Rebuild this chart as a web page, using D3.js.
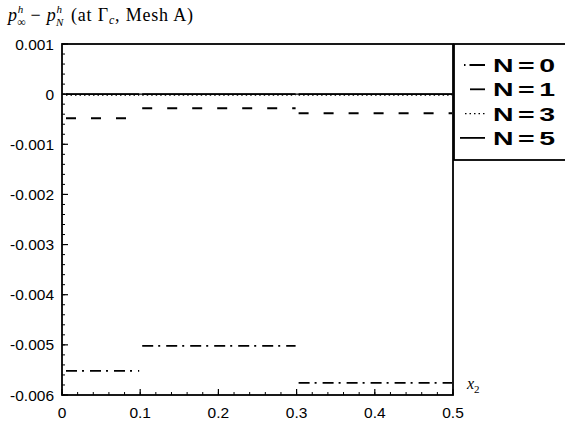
<!DOCTYPE html>
<html>
<head>
<meta charset="utf-8">
<script src="https://cdn.jsdelivr.net/npm/d3@7"></script>
<style>
body { margin:0; background:#fff; }
svg { display:block; }
.tick-text { font-family:"Liberation Sans", Arial, sans-serif; font-size:15.5px; fill:#000; }
.serif { font-family:"Liberation Serif", "Times New Roman", serif; fill:#000; }
.legend-text { font-family:"Liberation Sans", Arial, sans-serif; font-size:19px; font-weight:bold; fill:#000; }
</style>
</head>
<body>
<div id="chart"></div>
<script>
// series: piecewise constant on x2 intervals
var xBreaks = [0, 0.1, 0.3, 0.5]
var seriesNames = ["N=0", "N=1", "N=3", "N=5"]
var valsN0 = [-0.00552, -0.00502, -0.00576]
var valsN1 = [-0.00048, -0.00028, -0.00038]
var valsN3 = [-0.00002, -0.00002, -0.00002]
var valsN5 = [0, 0, 0]
var yTicks = [0.001, 0, -0.001, -0.002, -0.003, -0.004, -0.005, -0.006]
var xTicks = [0, 0.1, 0.2, 0.3, 0.4, 0.5]

var W = 565, H = 424
var plot = {left:62, right:453, top:44, bottom:395}

var svg = d3.select("#chart").append("svg")
  .attr("width", W)
  .attr("height", H)

var x = d3.scaleLinear().domain([0, 0.5]).range([plot.left, plot.right])
var y = d3.scaleLinear().domain([-0.006, 0.001]).range([plot.bottom, plot.top])

/* frame */
svg.append("rect")
  .attr("x", plot.left).attr("y", plot.top)
  .attr("width", plot.right - plot.left).attr("height", plot.bottom - plot.top)
  .attr("fill", "none").attr("stroke", "#000").attr("stroke-width", 1.8)

/* y ticks, inside */
var yMinor = d3.range(-0.006, 0.0010001, 0.0002)
yMinor.forEach(function(v) {
  svg.append("line")
    .attr("x1", plot.left).attr("x2", plot.left + 3)
    .attr("y1", y(v)).attr("y2", y(v))
    .attr("stroke", "#000").attr("stroke-width", 1)
})
yTicks.forEach(function(v) {
  svg.append("line")
    .attr("x1", plot.left).attr("x2", plot.left + 6)
    .attr("y1", y(v)).attr("y2", y(v))
    .attr("stroke", "#000").attr("stroke-width", 1.2)
  svg.append("text")
    .attr("class", "tick-text")
    .attr("x", plot.left - 8)
    .attr("y", y(v) + 5.5)
    .attr("text-anchor", "end")
    .text(v === 0 ? "0" : d3.format(".3f")(v).replace("−", "-"))
})

/* x ticks, inside */
var xMinor = d3.range(0, 0.50001, 0.02)
xMinor.forEach(function(v) {
  svg.append("line")
    .attr("x1", x(v)).attr("x2", x(v))
    .attr("y1", plot.bottom).attr("y2", plot.bottom - 3)
    .attr("stroke", "#000").attr("stroke-width", 1)
})
xTicks.forEach(function(v) {
  svg.append("line")
    .attr("x1", x(v)).attr("x2", x(v))
    .attr("y1", plot.bottom).attr("y2", plot.bottom - 6)
    .attr("stroke", "#000").attr("stroke-width", 1.2)
  svg.append("text")
    .attr("class", "tick-text")
    .attr("x", x(v))
    .attr("y", plot.bottom + 23)
    .attr("text-anchor", "middle")
    .text(v === 0 ? "0" : d3.format(".1f")(v))
})

/* zero line */
svg.append("line")
  .attr("x1", plot.left).attr("x2", plot.right)
  .attr("y1", y(0)).attr("y2", y(0))
  .attr("stroke", "#000").attr("stroke-width", 1.4)

/* series */
var styles = [
  {vals: valsN0, dash: "11,5,2,6", width: 1.8},
  {vals: valsN1, dash: "10,15", width: 2},
  {vals: valsN3, dash: "1.5,3", width: 1.2},
  {vals: valsN5, dash: null, width: 1.6}
]
styles.forEach(function(s) {
  s.vals.forEach(function(v, i) {
    var x0 = xBreaks[i], x1 = xBreaks[i + 1]
    var seg = svg.append("line")
      .attr("x1", x(x0) + (i === 0 ? 4 : 2)).attr("x2", x(x1) - 1)
      .attr("y1", y(v)).attr("y2", y(v))
      .attr("stroke", "#000").attr("stroke-width", s.width)
    if (s.dash) seg.attr("stroke-dasharray", s.dash)
  })
})

/* legend */
var lg = {left:454, top:44, bottom:160}
svg.append("rect")
  .attr("x", lg.left).attr("y", lg.top)
  .attr("width", W - lg.left + 5).attr("height", lg.bottom - lg.top)
  .attr("fill", "#fff").attr("stroke", "#000").attr("stroke-width", 1.8)

var legendSamples = [
  {x1:464, dash:"1.5,4,14,0", width:1.8},
  {x1:470, dash:null, width:1.8},
  {x1:465, dash:"1.5,3", width:1.4},
  {x1:460, dash:null, width:1.8}
]
seriesNames.forEach(function(name, i) {
  var yy = 65 + i * 24.3
  var ln = svg.append("line")
    .attr("x1", legendSamples[i].x1).attr("x2", 485)
    .attr("y1", yy).attr("y2", yy)
    .attr("stroke", "#000").attr("stroke-width", legendSamples[i].width)
  if (legendSamples[i].dash) ln.attr("stroke-dasharray", legendSamples[i].dash)
  var parts = name.split("=")
  var t = svg.append("text")
    .attr("class", "legend-text")
    .attr("x", 493).attr("y", yy + 7)
    .attr("textLength", 62)
    .attr("lengthAdjust", "spacingAndGlyphs")
  t.append("tspan").text(parts[0])
  t.append("tspan").attr("dx", 3).text("=")
  t.append("tspan").attr("dx", 3).text(parts[1])
})

/* title */
var title = svg.append("text")
  .attr("class", "serif")
  .attr("x", 8).attr("y", 21)
  .style("font-size", "18px")
  .style("letter-spacing", "0.8px")
title.append("tspan").style("font-style", "italic").text("p")
title.append("tspan").attr("dy", -8).style("font-size", "11px").style("font-style", "italic").text("h")
title.append("tspan").attr("dy", 13).attr("dx", -7).style("font-size", "12px").text("∞")
title.append("tspan").attr("dy", -5).attr("dx", 4).text("− ")
title.append("tspan").style("font-style", "italic").text("p")
title.append("tspan").attr("dy", -8).style("font-size", "11px").style("font-style", "italic").text("h")
title.append("tspan").attr("dy", 13).attr("dx", -7).style("font-size", "11px").style("font-style", "italic").text("N")
title.append("tspan").attr("dy", -5).attr("dx", 7).text("(at Γ")
title.append("tspan").attr("dy", 3).style("font-size", "12px").style("font-style", "italic").text("c")
title.append("tspan").attr("dy", -3).text(", Mesh A)")

/* x axis label */
var xl = svg.append("text")
  .attr("class", "serif")
  .attr("x", 467).attr("y", 389)
  .style("font-size", "16px")
xl.append("tspan").style("font-style", "italic").text("x")
xl.append("tspan").attr("dy", 4).style("font-size", "11px").text("2")
</script>
</body>
</html>
